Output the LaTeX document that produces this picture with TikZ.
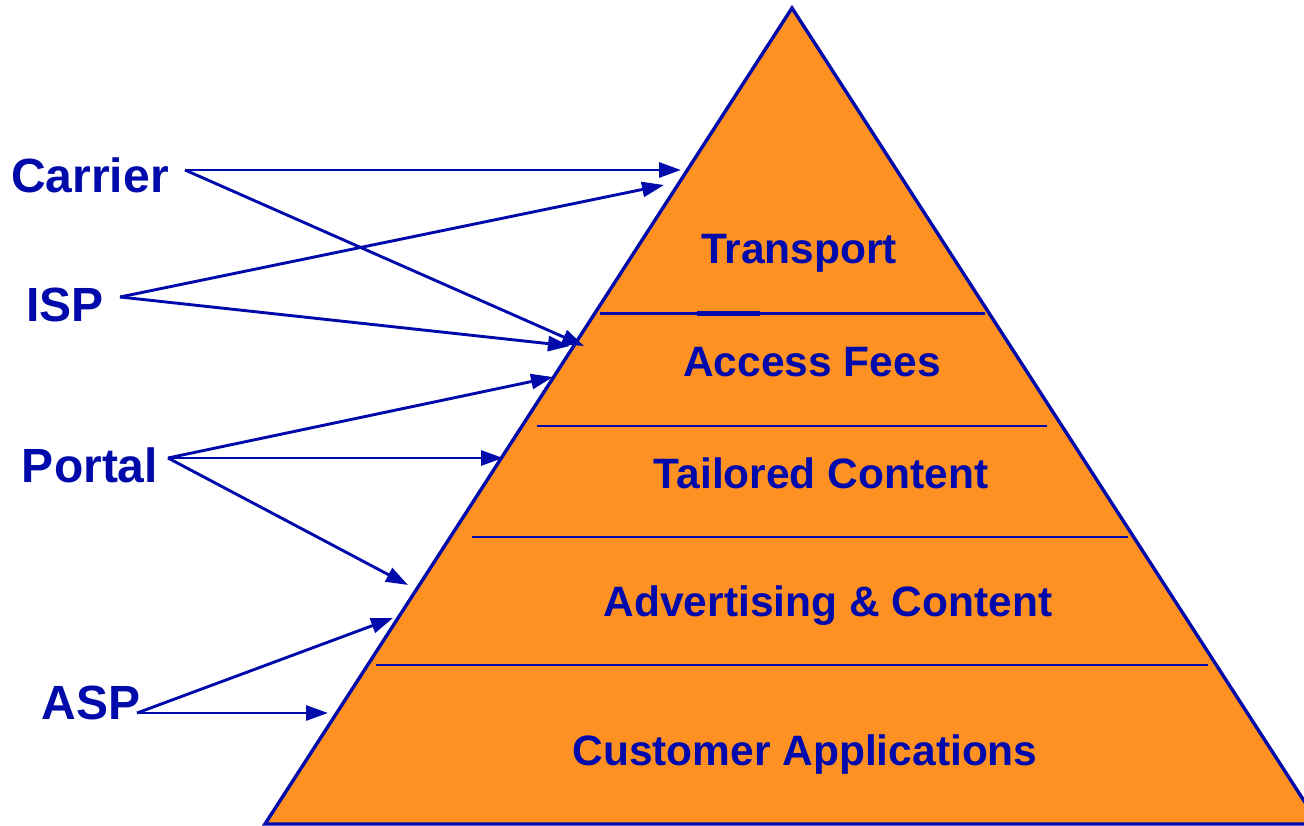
\documentclass[tikz,border=0pt]{standalone}
\usepackage{fontspec}
\setmainfont{Liberation Sans}
\usetikzlibrary{arrows.meta}
\definecolor{pyrorange}{RGB}{255,145,35}
\definecolor{pyrblue}{RGB}{0,10,170}
\tikzset{
  lbl/.style={anchor=base, inner sep=0pt, text=pyrblue, font=\fontsize{48}{52}\selectfont\bfseries},
  layer/.style={anchor=base, inner sep=0pt, text=pyrblue, font=\fontsize{42.5}{46}\selectfont\bfseries},
  divider/.style={draw=pyrblue, line width=2.8pt},
  conn/.style={draw=pyrblue, line width=2.9pt, -{Triangle[length=22pt,width=15pt]}, shorten >=0pt}
}
\begin{document}
\begin{tikzpicture}[x=1pt,y=-1pt]
\useasboundingbox (0,0) rectangle (1304,826);
\clip (0,0) rectangle (1304,826);
\fill[white] (0,0) rectangle (1304,826);
% pyramid
\filldraw[fill=pyrorange, draw=pyrblue, line width=3.4pt, line join=miter] (792,8) -- (1319,824) -- (265,824) -- cycle;
\draw[divider] (600,313.5) -- (985,313.5);
\draw[pyrblue, line width=4.6pt] (697,313.5) -- (760,313.5);
\draw[divider] (537,426) -- (1047,426);
\draw[divider] (472,537) -- (1128,537);
\draw[divider] (376,665) -- (1208,665);
% layer labels
\node[layer] (transport) at (799,264) {Transport};
\node[layer] (access) at (812,376) {Access Fees};
\node[layer] (tailored) at (821,488) {Tailored Content};
\node[layer] (advert) at (828,616) {Advertising \& Content};
\node[layer] (custapp) at (805,765) {Customer Applications};
% side labels
\node[lbl] (carrier) at (90,193) {Carrier};
\node[lbl] (isp) at (65,322) {ISP};
\node[lbl] (portal) at (90,482) {Portal};
\node[lbl] (asp) at (91,719) {ASP};
% connector ends
\coordinate (carrierR) at (185,170);
\coordinate (ispR) at (120,297);
\coordinate (portalR) at (168,458);
\coordinate (aspR) at (137,713);
\coordinate (tTransA) at (681,170);
\coordinate (tTransB) at (664,185);
\coordinate (tAccA) at (584,346);
\coordinate (tAccB) at (570,346);
\coordinate (tAccC) at (553,377);
\coordinate (tTail) at (503,458);
\coordinate (tAdvA) at (408,585);
\coordinate (tAdvB) at (393,618);
\coordinate (tCust) at (328,713);
% connectors
\draw[conn] (carrierR) -- (tTransA);
\draw[conn] (carrierR) -- (tAccA);
\draw[conn] (ispR) -- (tTransB);
\draw[conn] (ispR) -- (tAccB);
\draw[conn] (portalR) -- (tAccC);
\draw[conn] (portalR) -- (tTail);
\draw[conn] (portalR) -- (tAdvA);
\draw[conn] (aspR) -- (tAdvB);
\draw[conn] (aspR) -- (tCust);
\end{tikzpicture}
\end{document}
